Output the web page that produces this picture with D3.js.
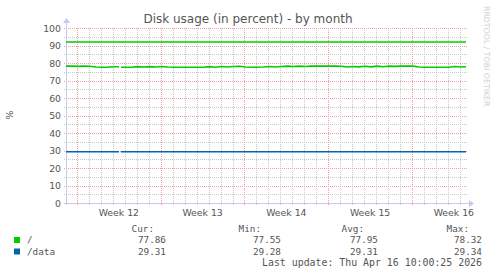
<!DOCTYPE html>
<html><head><meta charset="utf-8">
<script src="https://cdn.jsdelivr.net/npm/d3@7"></script>
<style>
html,body{margin:0;padding:0;background:#fff;}
svg{display:block;}
text{font-family:"DejaVu Sans",sans-serif;fill:#555;}
.mono{font-family:"DejaVu Sans Mono",monospace;}
</style></head>
<body>
<svg id="c" width="497" height="276"></svg>
<script>
// ---- data ----
const title = "Disk usage (in percent) - by month";
const startTime = new Date(Date.UTC(2026, 2, 15, 2, 0));
const endTime = new Date(Date.UTC(2026, 3, 17, 12, 20));
const stepHours = 12;
const seriesNames = ["/", "/data"];
const seriesColors = ["#00cc00", "#0066b3"];
const rootValues = [78.2,78.2,78.1,78.2,78.1,77.7,77.6,77.6,77.9,null,77.6,77.6,77.9,77.7,77.9,77.7,
  78.0,77.7,77.6,77.6,77.6,77.6,77.6,77.6,77.9,77.6,78.0,77.7,78.0,78.1,77.7,77.6,77.6,77.7,
  78.0,77.7,78.0,78.2,78.0,78.2,78.0,78.2,78.3,78.2,78.3,78.2,78.1,77.7,78.0,77.8,78.1,77.8,
  78.2,77.9,78.2,78.1,78.2,78.2,78.2,77.7,77.6,77.6,77.6,77.6,77.6,78.0,77.7,77.86];
const dataValues = [29.31,29.31,29.32,29.31,29.30,29.31,29.31,29.30,29.31,null,29.31,29.31,29.32,29.31,29.31,29.30,
  29.31,29.31,29.32,29.31,29.31,29.30,29.31,29.31,29.31,29.32,29.31,29.31,29.30,29.31,29.31,29.31,29.32,29.31,
  29.31,29.30,29.31,29.31,29.31,29.32,29.31,29.31,29.30,29.31,29.31,29.31,29.32,29.31,29.31,29.30,29.31,29.31,
  29.31,29.32,29.31,29.31,29.30,29.31,29.31,29.31,29.32,29.31,29.31,29.30,29.31,29.31,29.31,29.31];
const gapPeriod = [new Date(Date.UTC(2026, 2, 19, 12, 20)), new Date(Date.UTC(2026, 2, 19, 16, 20))];
const warningLevel = 92;
const yTicks = [0, 10, 20, 30, 40, 50, 60, 70, 80, 90, 100];
const yMinorTicks = [5, 15, 25, 35, 45, 55, 65, 75, 85, 95];
const legendHeaders = ["Cur:", "Min:", "Avg:", "Max:"];
const legendCur = ["77.86", "29.31"];
const legendMin = ["77.55", "29.28"];
const legendAvg = ["77.95", "29.31"];
const legendMax = ["78.32", "29.34"];
const lastUpdate = "Last update: Thu Apr 16 10:00:25 2026";
const watermark = "RRDTOOL / TOBI OETIKER";

// ---- chart ----
const svg = d3.select("#c");
const L = 66, R = 466, T = 28, B = 203;
const x = d3.scaleUtc().domain([startTime, endTime]).range([L, R]);
const y = d3.scaleLinear().domain([0, 100]).range([B, T]);

const grid = svg.append("g");
grid.selectAll(".vmin").data(d3.utcDay.range(startTime, endTime)).join("line")
  .attr("x1", d => Math.round(x(d)) + 0.5).attr("x2", d => Math.round(x(d)) + 0.5)
  .attr("y1", T).attr("y2", B + 2)
  .attr("stroke", "#c8c8c8").attr("stroke-dasharray", "1,1");
grid.selectAll(".hmin").data(yMinorTicks).join("line")
  .attr("x1", L - 2).attr("x2", R + 2)
  .attr("y1", d => Math.round(y(d)) + 0.5).attr("y2", d => Math.round(y(d)) + 0.5)
  .attr("stroke", "#c8c8c8").attr("stroke-dasharray", "1,1");
const mondays = d3.utcMonday.range(startTime, endTime);
grid.selectAll(".vmaj").data(mondays).join("line")
  .attr("x1", d => Math.round(x(d)) + 0.5).attr("x2", d => Math.round(x(d)) + 0.5)
  .attr("y1", T).attr("y2", B + 2)
  .attr("stroke", "#f0a0a0").attr("stroke-dasharray", "1,1");
grid.selectAll(".hmaj").data(yTicks.filter(d => d > 0)).join("line")
  .attr("x1", L - 2).attr("x2", R + 2)
  .attr("y1", d => Math.round(y(d)) + 0.5).attr("y2", d => Math.round(y(d)) + 0.5)
  .attr("stroke", "#f0a0a0").attr("stroke-dasharray", "1,1");

svg.selectAll(".yl").data(yTicks).join("text")
  .attr("x", 61).attr("y", d => y(d) + 3.5)
  .attr("text-anchor", "end").attr("font-size", "9.33px").text(d => d);
const weekFmt = d3.utcFormat("%V");
const weekStarts = d3.utcMonday.range(d3.utcMonday.offset(startTime, -1), endTime);
svg.selectAll(".xl").data(weekStarts.filter(d => {
    const m = d3.utcHour.offset(d, 84); return m >= startTime && m <= endTime; }))
  .join("text")
  .attr("x", d => x(d3.utcHour.offset(d, 84))).attr("y", 216)
  .attr("text-anchor", "middle").attr("font-size", "9.33px")
  .text(d => "Week " + (+weekFmt(d)));

svg.append("line").attr("x1", L + 0.5).attr("x2", L + 0.5).attr("y1", B + 2).attr("y2", 22)
  .attr("stroke", "#c8c8f0");
svg.append("line").attr("x1", L - 2).attr("x2", 470).attr("y1", B + 0.5).attr("y2", B + 0.5)
  .attr("stroke", "#c8c8f0");
svg.append("path").attr("d", `M${L - 3},${23}L${L + 4},${23}L${L + 0.5},${18}Z`).attr("fill", "#c8c8f0");
svg.append("path").attr("d", `M${469},${B - 3}L${469},${B + 4}L${474},${B + 0.5}Z`).attr("fill", "#c8c8f0");

svg.append("line").attr("x1", L).attr("x2", R)
  .attr("y1", y(warningLevel)).attr("y2", y(warningLevel))
  .attr("stroke", seriesColors[0]).attr("stroke-width", 1.5);

function buildPoints(vals) {
  const pts = [];
  const g0 = +gapPeriod[0], g1 = +gapPeriod[1];
  let prevV = null, gapDone = false;
  vals.forEach((v, i) => {
    const t = Math.min(+d3.utcHour.offset(startTime, i * stepHours), +endTime);
    if (t >= g0 && t <= g1) return;
    if (t > g1 && !gapDone) {
      pts.push({ t: g0, v: prevV });
      pts.push({ t: null, v: null });
      pts.push({ t: g1, v: v });
      gapDone = true;
    }
    if (v !== null) { pts.push({ t: t, v: v }); prevV = v; }
  });
  return pts;
}
const line = d3.line().defined(d => d.t !== null && d.v !== null)
  .x(d => x(new Date(d.t))).y(d => y(d.v));
[rootValues, dataValues].forEach((vals, k) => {
  svg.append("path").datum(buildPoints(vals))
    .attr("d", line).attr("fill", "none")
    .attr("stroke", seriesColors[k]).attr("stroke-width", 1.6);
});

svg.append("text").attr("x", 248).attr("y", 23).attr("text-anchor", "middle")
  .attr("font-size", "12px").text(title);
svg.append("text").attr("transform", "translate(13,115) rotate(-90)")
  .attr("text-anchor", "middle").attr("font-size", "9.33px").text("%");
svg.append("text").attr("transform", "translate(484,6) rotate(90)")
  .attr("font-size", "7.8px").style("fill", "#d0d0d0").text(watermark);

const valueRight = [166, 281, 378, 482];
const headerRight = [154, 261, 364, 469];
legendHeaders.forEach((h, j) => {
  svg.append("text").attr("class", "mono").attr("x", headerRight[j]).attr("y", 231.5)
    .attr("text-anchor", "end").attr("font-size", "9.33px").text(h);
});
const cols = [legendCur, legendMin, legendAvg, legendMax];
seriesNames.forEach((n, i) => {
  const by = 243 + i * 11.5;
  svg.append("rect").attr("x", 14).attr("y", by - 6).attr("width", 6).attr("height", 6)
    .attr("fill", seriesColors[i]);
  svg.append("text").attr("class", "mono").attr("x", 27).attr("y", by)
    .attr("font-size", "9.33px").text(n);
  cols.forEach((c, j) => {
    svg.append("text").attr("class", "mono").attr("x", valueRight[j]).attr("y", by)
      .attr("text-anchor", "end").attr("font-size", "9.33px").text(c[i]);
  });
});
svg.append("text").attr("class", "mono").attr("x", 482).attr("y", 266)
  .attr("text-anchor", "end").attr("font-size", "9.9px").text(lastUpdate);
</script>
</body></html>
